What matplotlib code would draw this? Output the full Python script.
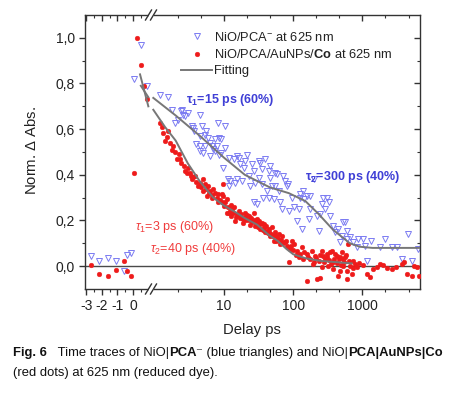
import numpy as np
import matplotlib
matplotlib.use("Agg")
import matplotlib.pyplot as plt
from matplotlib.ticker import FixedLocator, FuncFormatter, NullFormatter
from matplotlib.lines import Line2D
from matplotlib.patches import Rectangle

plt.rcParams['font.family'] = ['Liberation Sans', 'DejaVu Sans']
plt.rcParams['mathtext.fontset'] = 'custom'
plt.rcParams['mathtext.rm'] = 'Liberation Sans'
plt.rcParams['mathtext.it'] = 'Liberation Sans:italic'
plt.rcParams['mathtext.bf'] = 'Liberation Sans:bold'
plt.rcParams['axes.unicode_minus'] = False

# ---- data (delay in ps, normalised dA) ----
red_t = [-2.68, -2.15, -1.62, -1.1, -0.59, -0.36, -0.15, 0.06, 0.25, 0.49, 0.70, 0.91,
         1.19, 1.25, 1.31, 1.40, 1.50, 1.55, 1.65, 1.75, 1.83, 1.95, 2.07, 2.2, 2.3, 2.41, 2.6,
         2.73, 2.9, 3.02, 3.19, 3.3, 3.4, 3.6, 3.77, 3.9, 4.2, 4.45, 4.7, 4.97, 5.0, 5.26, 5.4,
         5.6, 5.87, 6.0, 6.3, 6.6, 6.8, 7.0, 7.5, 7.8, 8.3, 8.3, 8.8, 9.3, 9.4, 9.6, 9.8, 9.9,
         10.3, 10.9, 11.0, 11.3, 11.7, 12.0, 12.5, 12.8, 13.0, 13.5, 14.0, 14.6, 15.0, 15.4, 16.0,
         16.3, 17.0, 17.5, 18.2, 18.8, 19.0, 20.0, 20.3, 21.0, 21.5, 22.7, 23.0, 24.0, 24.5, 25.4,
         26.9, 27.0, 28.4, 29.0, 30.0, 31.0, 31.8, 33.0, 33.5, 35.0, 36.0, 37.5, 38.0, 39.6, 40.0,
         41.0, 43.0, 44.3, 45.0, 46.8, 48.0, 49.5, 51.0, 52.3, 54.0, 55.3, 57.0, 58.4, 60.0, 62.0,
         65.3, 66.0, 68.9, 72.0, 75.0, 78.0, 81.3, 84.0, 86.0, 90.0, 92.0, 96.0, 98.0, 101.6,
         110, 113, 120, 127, 134, 140, 145, 157, 158, 165, 176, 187, 190, 200, 208, 215, 221, 233,
         240, 244, 258, 265, 272, 280, 290, 305, 310, 320, 330, 340, 350, 361, 375, 380, 390, 405,
         424, 430, 447, 460, 472, 480, 498, 510, 520, 527, 550, 560, 580, 590, 600, 621, 640, 660,
         700, 720, 737, 780, 824, 900, 1030, 1152, 1290, 1440, 1600, 1800, 2010, 2300, 2650, 3100,
         3690, 4000, 4390, 5150, 5600, 6070, 6500]
red_v = [0.003, -0.034, -0.044, -0.015, 0.023, -0.019, -0.044, 0.41, 1.0, 0.88, 0.79, 0.73,
         0.627, 0.61, 0.584, 0.547, 0.565, 0.59, 0.54, 0.51, 0.526, 0.5, 0.468, 0.49, 0.47, 0.453,
         0.44, 0.417, 0.41, 0.431, 0.41, 0.395, 0.38, 0.39, 0.395, 0.37, 0.35, 0.366, 0.345, 0.38,
         0.33, 0.359, 0.34, 0.308, 0.351, 0.32, 0.33, 0.3, 0.31, 0.337, 0.32, 0.3, 0.315, 0.279,
         0.29, 0.315, 0.28, 0.308, 0.359, 0.264,
         0.28, 0.235, 0.293, 0.26, 0.235, 0.24, 0.27, 0.22, 0.25, 0.235, 0.26, 0.199, 0.215, 0.228,
         0.225, 0.242, 0.21, 0.23, 0.213, 0.205, 0.19, 0.215, 0.235, 0.2, 0.225, 0.22, 0.2, 0.18,
         0.21, 0.192, 0.235, 0.2, 0.177, 0.19, 0.205, 0.17, 0.199, 0.185, 0.163, 0.19, 0.16, 0.184,
         0.17, 0.148, 0.155, 0.175, 0.145, 0.163, 0.15, 0.133, 0.14, 0.17, 0.13, 0.112, 0.135,
         0.148, 0.11, 0.126, 0.12, 0.14, 0.097, 0.115, 0.133, 0.1, 0.105, 0.11, 0.09, 0.085, 0.017,
         0.075, 0.09, 0.112, 0.07, 0.097,
         0.05, 0.068, 0.04, 0.054, 0.083, 0.03, 0.06, -0.063, 0.054, 0.04, 0.032, 0.068, 0.01, 0.02,
         0.046, 0.035, -0.055, 0.024, 0.05, -0.052, 0.068, -0.004, 0.046, 0.02, 0.03, 0.054, 0.04,
         0.0, 0.025, 0.061, 0.01, 0.068, -0.012, 0.017, 0.03, 0.054, 0.046, 0.015, -0.041, 0.032,
         -0.019, 0.04, 0.003, 0.061, 0.0, 0.032, 0.02, 0.039, 0.05, -0.019, -0.055, 0.097, 0.024,
         0.0, -0.034, -0.01, 0.024, 0.01, -0.004, 0.015, 0.003, -0.034, -0.048, -0.012, -0.004,
         0.01, 0.003, -0.01, -0.012, -0.004, 0.01, 0.017, -0.034, -0.041, 0.0, -0.004, -0.041]

blue_t = [-2.68, -2.15, -1.62, -1.1, -0.59, -0.36, -0.15, 0.06, 0.49, 0.87,
          1.19, 1.57, 1.75, 1.95, 2.16, 2.41, 2.45, 2.55, 2.73, 3.0, 3.41, 3.6, 3.7, 4.0, 4.45,
          4.45, 4.45, 4.5, 4.75, 5.0, 5.3, 5.3, 5.55, 5.9, 6.2, 6.3, 6.6, 7.0, 7.3, 7.3, 7.8, 8.2,
          8.5, 8.5, 9.0, 9.0, 9.7, 10.2, 10.3,
          11.5, 11.7, 11.7, 12.2, 13.8, 14.6, 15.3, 15.4, 16.3, 17.0, 18.2, 19.3, 20.0, 21.3, 22.7,
          24.0, 25.4, 26.9, 26.9, 28.4, 30.0, 31.7, 31.7, 33.0, 35.4, 35.4, 37.0, 39.5, 41.8, 44.3,
          44.3, 46.0, 46.7, 49.5, 52.3, 54.6, 55.0, 58.4, 62.0, 65.3, 68.9, 72.0, 76.6, 81.0, 85.0,
          86.0, 95.0,
          101, 113, 120, 125, 127, 134, 140, 142, 158, 167, 174, 176, 198, 221, 233, 243, 258, 272,
          287, 305, 324, 340, 380, 403, 447, 472, 500, 527, 560, 590, 600, 660, 737, 824, 870,
          1030, 1080, 1152, 1350, 1800, 2130, 2650, 3120, 3690, 4620, 5150, 6400]
blue_v = [0.044, 0.023, 0.036, 0.023, -0.019, 0.05, 0.058, 0.82, 0.97, 0.79,
          0.75, 0.743, 0.685, 0.627, 0.642, 0.678, 0.685, 0.664, 0.656, 0.671, 0.613, 0.606, 0.59,
          0.533, 0.664, 0.569, 0.504, 0.526, 0.613, 0.497, 0.576, 0.526, 0.59, 0.562, 0.482, 0.54,
          0.526, 0.511, 0.555, 0.504, 0.526, 0.627, 0.562, 0.489, 0.555, 0.497, 0.431, 0.518, 0.613,
          0.38, 0.475, 0.351, 0.373, 0.468, 0.366, 0.482, 0.38, 0.475, 0.446, 0.373, 0.431, 0.46,
          0.489, 0.395, 0.351, 0.446, 0.417, 0.279, 0.366, 0.271, 0.46, 0.388, 0.453, 0.424, 0.359,
          0.3, 0.468, 0.329, 0.417, 0.3, 0.438, 0.388, 0.351, 0.293, 0.41, 0.351, 0.402, 0.33,
          0.279, 0.25, 0.395, 0.373, 0.351, 0.359, 0.242, 0.3,
          0.257, 0.199, 0.25, 0.3, 0.315, 0.163, 0.329, 0.293, 0.308, 0.206, 0.308, 0.25, 0.38,
          0.22, 0.155, 0.228, 0.271, 0.3, 0.25, 0.3, 0.279, 0.22, 0.177, 0.148, 0.163, 0.105,
          0.133, 0.192, 0.192, 0.155, 0.119, 0.126, 0.105, 0.083, 0.119,
          0.119, 0.09, 0.024, 0.112, 0.083, 0.119, 0.083, 0.083, 0.032, 0.141, 0.024, 0.075]

# fitting curves
fit_red_lin_t = [0.45, 0.98]
fit_red_lin_v = [0.84, 0.70]
fit_blue_lin_t = [0.50, 0.98]
fit_blue_lin_v = [0.79, 0.74]
fit_red_t = [0.95, 1.4, 2.0, 3.0, 4.5, 7.0, 10, 15, 20, 30, 45, 60, 80, 100, 150, 250, 400, 700]
fit_red_v = [0.685, 0.61, 0.55, 0.45, 0.37, 0.30, 0.265, 0.235, 0.21, 0.182, 0.135, 0.11,
             0.075, 0.052, 0.035, 0.023, 0.018, 0.012]
fit_blue_t = [0.95, 2.0, 4.5, 10, 20, 46, 86, 150, 230, 375, 660, 920, 1400, 7000]
fit_blue_v = [0.737, 0.66, 0.57, 0.475, 0.40, 0.345, 0.32, 0.285, 0.23, 0.16, 0.10, 0.085,
              0.08, 0.08]

x_ticks_lin = [-3, -2, -1, 0]
x_ticks_log = [10, 100, 1000]
y_ticks = [0.0, 0.2, 0.4, 0.6, 0.8, 1.0]

BLUE = '#7b7bf2'
RED = '#ee1b1b'
FIT = '#777777'
FRAME = '#333333'

W, H = 454, 398
fig = plt.figure(figsize=(W / 100, H / 100), dpi=100)


def fx(px):
    return px / W


def fy(py):
    return 1 - py / H


x_left, x_break, x_right = 84.5, 151.0, 420.0
y_top, y_bot = 15.0, 289.0
ax_lin = fig.add_axes([fx(x_left), fy(y_bot), fx(x_break) - fx(x_left), fy(y_top) - fy(y_bot)])
ax_log = fig.add_axes([fx(x_break), fy(y_bot), fx(x_right) - fx(x_break), fy(y_top) - fy(y_bot)])

red_t = np.array(red_t); red_v = np.array(red_v)
blue_t = np.array(blue_t); blue_v = np.array(blue_v)
lin_r = red_t < 1.0
lin_b = blue_t < 1.0

mk_blue = dict(ls='none', marker='v', mfc='none', mec=BLUE, ms=4.6, mew=0.7)
mk_red = dict(ls='none', marker='o', mfc=RED, mec=RED, ms=3.4, mew=0.3)

for ax in (ax_lin, ax_log):
    ax.axhline(0, color='#4a4a4a', lw=1.0, zorder=1)

ax_lin.plot(blue_t[lin_b], blue_v[lin_b], **mk_blue, zorder=2)
ax_lin.plot(red_t[lin_r], red_v[lin_r], **mk_red, zorder=3)
ax_lin.plot(fit_blue_lin_t, fit_blue_lin_v, color=FIT, lw=1.4, zorder=4)
ax_lin.plot(fit_red_lin_t, fit_red_lin_v, color=FIT, lw=1.4, zorder=4)

hb, = ax_log.plot(blue_t[~lin_b], blue_v[~lin_b], **mk_blue, zorder=2)
hr, = ax_log.plot(red_t[~lin_r], red_v[~lin_r], **mk_red, zorder=3)
ax_log.plot(fit_blue_t, fit_blue_v, color=FIT, lw=1.4, zorder=4)
hf, = ax_log.plot(fit_red_t, fit_red_v, color=FIT, lw=1.4, zorder=4)

ax_lin.set_xlim(-3.1, 1.15)
ax_log.set_xscale('log')
ax_log.set_xlim(0.88, 6800)
for ax in (ax_lin, ax_log):
    ax.set_ylim(-0.1, 1.1)
    for s in ax.spines.values():
        s.set_color(FRAME)
        s.set_linewidth(1.0)

ax_lin.spines['right'].set_visible(False)
ax_log.spines['left'].set_visible(False)

# linear part ticks
ax_lin.xaxis.set_major_locator(FixedLocator(x_ticks_lin))
ax_lin.xaxis.set_minor_locator(FixedLocator([-2.5, -1.5, -0.5, 0.5]))
ax_lin.yaxis.set_major_locator(FixedLocator(y_ticks))
ax_lin.yaxis.set_minor_locator(FixedLocator([0.1, 0.3, 0.5, 0.7, 0.9]))
ax_lin.yaxis.set_major_formatter(FuncFormatter(lambda v, p: f"{v:.1f}".replace('.', ',')))
ax_lin.tick_params(which='both', direction='out', color=FRAME, labelsize=10, labelcolor='#222222')
ax_lin.tick_params(which='major', length=4.5, width=1.0, pad=2.5)
ax_lin.tick_params(which='minor', length=2.5, width=0.8)

# log part ticks
ax_log.xaxis.set_major_locator(FixedLocator(x_ticks_log))
ax_log.xaxis.set_major_formatter(FuncFormatter(lambda v, p: f"{v:g}"))
minor_log = [10 ** (k + f) for k in range(0, 4) for f in (1 / 3, 2 / 3)]
ax_log.xaxis.set_minor_locator(FixedLocator(minor_log))
ax_log.xaxis.set_minor_formatter(NullFormatter())
ax_log.yaxis.set_major_locator(FixedLocator(y_ticks))
ax_log.yaxis.set_minor_locator(FixedLocator([0.1, 0.3, 0.5, 0.7, 0.9]))
ax_log.tick_params(axis='x', which='both', direction='out', color=FRAME, labelsize=10,
                   labelcolor='#222222')
ax_log.tick_params(axis='y', which='both', direction='in', left=False, right=True,
                   labelleft=False, color=FRAME)
ax_log.tick_params(which='major', length=4.5, width=1.0, pad=2.5)
ax_log.tick_params(which='minor', length=2.5, width=0.8)

# inward ticks along the top edge
for ax, major, minor in ((ax_lin, x_ticks_lin, [-2.5, -1.5, -0.5, 0.5]),
                         (ax_log, x_ticks_log, minor_log)):
    sec = ax.secondary_xaxis('top')
    sec.xaxis.set_major_locator(FixedLocator(major))
    sec.xaxis.set_minor_locator(FixedLocator(minor))
    sec.xaxis.set_major_formatter(NullFormatter())
    sec.xaxis.set_minor_formatter(NullFormatter())
    sec.tick_params(which='both', direction='in', color=FRAME)
    sec.tick_params(which='major', length=4.5, width=1.0)
    sec.tick_params(which='minor', length=2.5, width=0.8)
    sec.spines['top'].set_visible(False)

# axis break marks
for yb in (y_top, y_bot):
    fig.patches.append(Rectangle((fx(x_break - 2.5), fy(yb) - 0.004), fx(5), 0.008,
                                 transform=fig.transFigure, facecolor='white',
                                 edgecolor='none', zorder=5))
    for dx in (-2.5, 2.5):
        fig.lines.append(Line2D([fx(x_break + dx - 3), fx(x_break + dx + 3)],
                                [fy(yb + 5), fy(yb - 5)], transform=fig.transFigure,
                                color=FRAME, lw=1.0, zorder=6))

# legend
leg = ax_log.legend([hb, hr, hf],
                    [r'NiO/PCA$^{-}$ at 625 nm', r'NiO/PCA/AuNPs/$\mathbf{Co}$ at 625 nm',
                     'Fitting'],
                    loc='upper left', bbox_to_anchor=(fx(181), fy(31)),
                    bbox_transform=fig.transFigure, frameon=False, fontsize=9.3,
                    handlelength=2.4, handletextpad=0.15, labelspacing=0.32,
                    borderpad=0, borderaxespad=0, numpoints=1)
for txt in leg.get_texts():
    txt.set_color('#222222')

# lifetime annotations
ax_log.text(2.82, 0.729, r'$\mathbf{\tau_1}$=15 ps (60%)', color='#3f3fd6',
            fontsize=9, fontweight='bold', va='center')
ax_log.text(148, 0.389, r'$\mathbf{\tau_2}$=300 ps (40%)', color='#3f3fd6',
            fontsize=9, fontweight='bold', va='center')
ax_log.text(0.52, 0.171, r'$\tau_1$=3 ps (60%)', color='#f03c3c', fontsize=9, va='center')
ax_log.text(0.85, 0.075, r'$\tau_2$=40 ps (40%)', color='#f03c3c', fontsize=9, va='center')

fig.text(fx(252), fy(330), 'Delay ps', ha='center', va='center', fontsize=10.7,
         color='#222222')
fig.text(fx(32), fy(150), r'Norm. $\Delta$ Abs.', ha='center', va='center', rotation=90,
         fontsize=10.7, color='#222222')

# caption
renderer = fig.canvas.get_renderer()


def rich_line(x, y, pieces, size):
    for s, w in pieces:
        t = fig.text(x, y, s, fontsize=size, fontweight=w, va='baseline', color='#111111')
        x += t.get_window_extent(renderer=renderer).width / W


cap_size = 9.4
rich_line(fx(13), fy(356), [('Fig. 6', 'bold'), ('   Time traces of NiO|', 'normal'),
                            ('PCA', 'bold'), ('\u207b (blue triangles) and NiO|', 'normal'),
                            ('PCA|AuNPs|Co', 'bold')], cap_size)
rich_line(fx(13), fy(376), [('(red dots) at 625 nm (reduced dye).', 'normal')], cap_size)

fig.savefig('out.png', dpi=100)
